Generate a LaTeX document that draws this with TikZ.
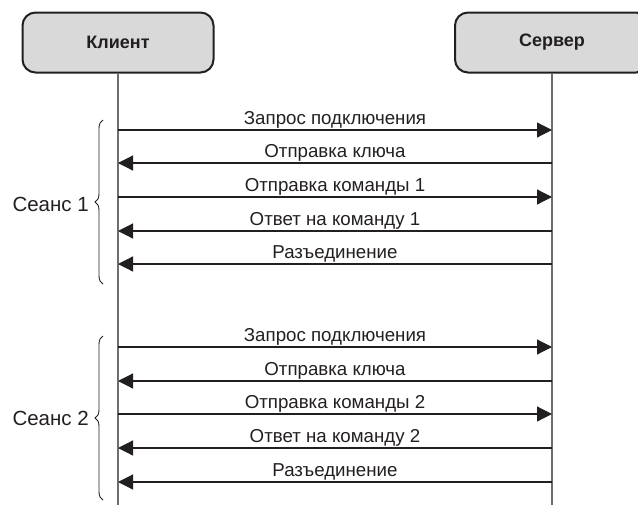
\documentclass[tikz,border=0pt]{standalone}
\usepackage{fontspec}
\setmainfont{Liberation Sans}
\usetikzlibrary{arrows.meta,decorations.pathreplacing}
\definecolor{boxfill}{HTML}{D9D9D9}
\definecolor{ink}{HTML}{231F20}
\definecolor{life}{HTML}{6D6E71}
\begin{document}
\begin{tikzpicture}[x=1pt,y=-1pt,
  actor/.style={draw=ink, line width=2pt, fill=boxfill, rounded corners=13pt,
    minimum height=60pt, inner sep=0pt, font=\fontsize{18}{20}\selectfont\bfseries, text=ink},
  msg/.style={draw=ink, line width=1.2pt, -{Triangle[length=15pt,width=15pt]}},
  lbl/.style={font=\fontsize{18.7}{20}\selectfont, text=ink, inner sep=0pt, anchor=base, yshift=6pt},
  lifeline/.style={draw=life, line width=1.6pt},
  sess/.style={font=\fontsize{20.5}{22}\selectfont, text=ink, anchor=east, inner sep=0pt},
  brc/.style={draw=ink, line width=0.9pt, decorate, decoration={brace, amplitude=8pt}}
]
\clip (0,0) rectangle (638,504);
\node[actor, minimum width=191pt] (client) at (118,42.5) {Клиент};
\node[actor, minimum width=194pt] (server) at (552,42.5) {Сервер};
\coordinate (cend) at (118,506);
\coordinate (send) at (552,506);
\draw[lifeline] (client.south) -- (cend);
\draw[lifeline] (server.south) -- (send);

% session 1
\coordinate (c1) at (118,130); \coordinate (s1) at (552,130);
\coordinate (c2) at (118,163); \coordinate (s2) at (552,163);
\coordinate (c3) at (118,197); \coordinate (s3) at (552,197);
\coordinate (c4) at (118,231); \coordinate (s4) at (552,231);
\coordinate (c5) at (118,264); \coordinate (s5) at (552,264);
\draw[msg] (c1) -- (s1) node[lbl, midway] (l1) {Запрос подключения};
\draw[msg] (s2) -- (c2) node[lbl, midway] (l2) {Отправка ключа};
\draw[msg] (c3) -- (s3) node[lbl, midway] (l3) {Отправка команды 1};
\draw[msg] (s4) -- (c4) node[lbl, midway] (l4) {Ответ на команду 1};
\draw[msg] (s5) -- (c5) node[lbl, midway] (l5) {Разъединение};

% session 2
\coordinate (c6) at (118,347); \coordinate (s6) at (552,347);
\coordinate (c7) at (118,381); \coordinate (s7) at (552,381);
\coordinate (c8) at (118,414); \coordinate (s8) at (552,414);
\coordinate (c9) at (118,448); \coordinate (s9) at (552,448);
\coordinate (c10) at (118,482); \coordinate (s10) at (552,482);
\draw[msg] (c6) -- (s6) node[lbl, midway] (l6) {Запрос подключения};
\draw[msg] (s7) -- (c7) node[lbl, midway] (l7) {Отправка ключа};
\draw[msg] (c8) -- (s8) node[lbl, midway] (l8) {Отправка команды 2};
\draw[msg] (s9) -- (c9) node[lbl, midway] (l9) {Ответ на команду 2};
\draw[msg] (s10) -- (c10) node[lbl, midway] (l10) {Разъединение};

% braces
\coordinate (b1top) at (103,120); \coordinate (b1bot) at (103,284);
\coordinate (b2top) at (103,336); \coordinate (b2bot) at (103,500);
\draw[brc] (b1bot) -- (b1top);
\draw[brc] (b2bot) -- (b2top);
\node[sess] (sess1) at (89,204) {Сеанс 1};
\node[sess] (sess2) at (89,418) {Сеанс 2};
\end{tikzpicture}
\end{document}
